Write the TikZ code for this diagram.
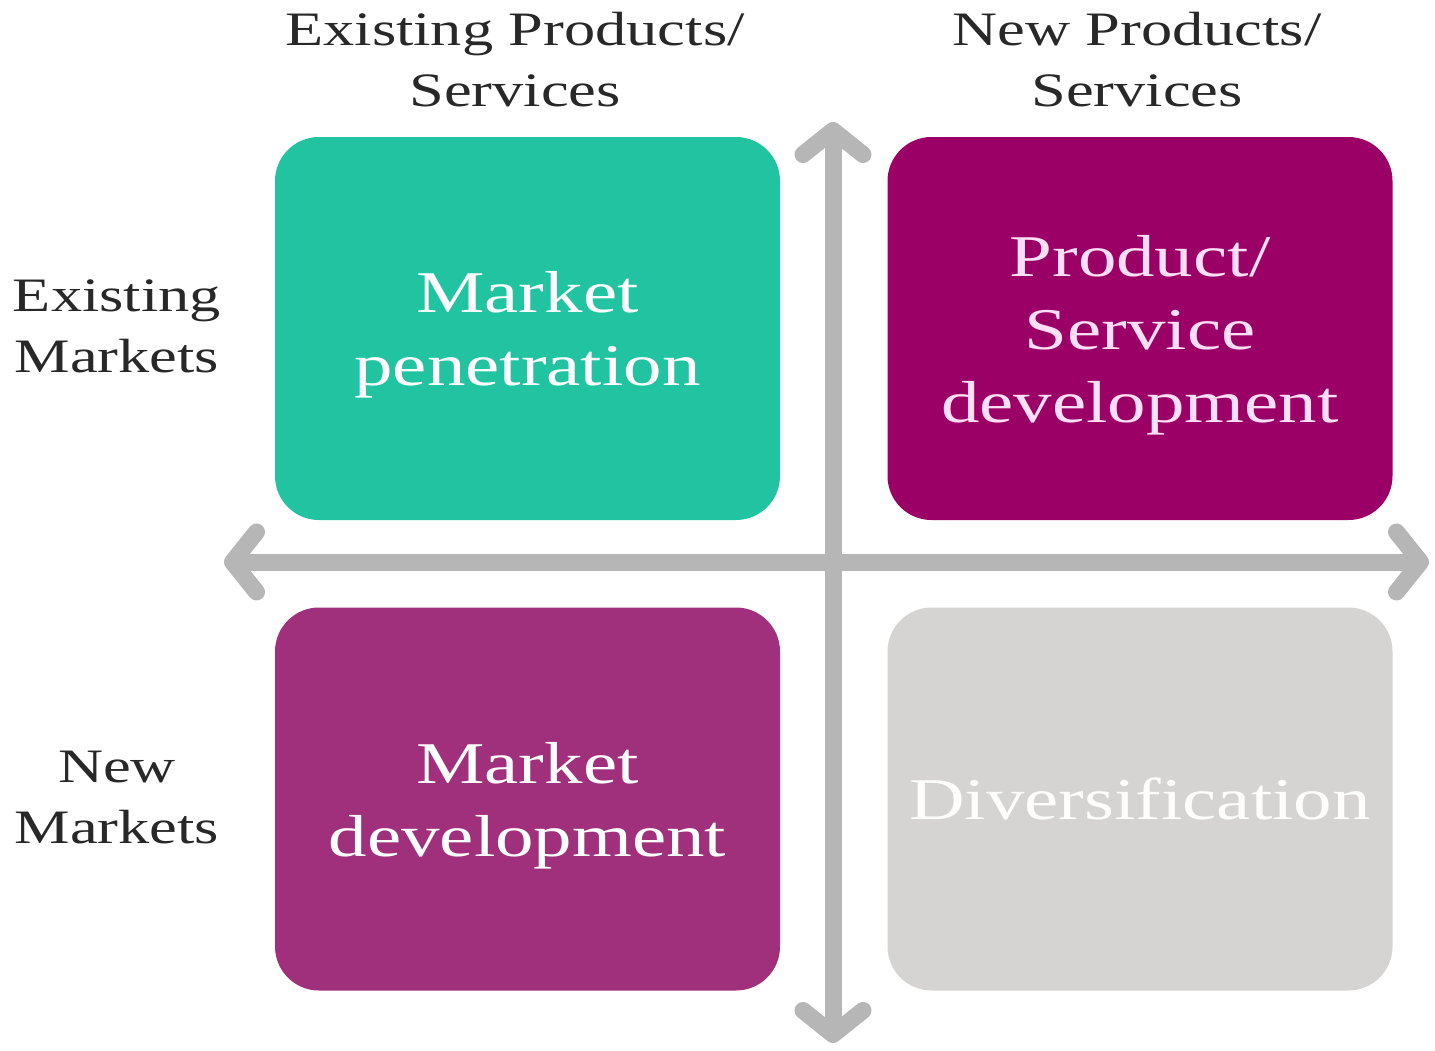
\documentclass[tikz,border=0pt]{standalone}
\usepackage{fontspec}
\setmainfont[FakeStretch=1.3]{Liberation Serif}
\usetikzlibrary{arrows.meta}
\definecolor{tealbox}{RGB}{34,195,161}
\definecolor{magbox}{RGB}{155,0,102}
\definecolor{purpbox}{RGB}{160,48,124}
\definecolor{greybox}{RGB}{214,211,211}
\definecolor{axisgrey}{RGB}{182,182,182}
\definecolor{labelgrey}{RGB}{40,40,40}
\definecolor{palepink}{RGB}{255,222,246}
\tikzset{
  quad/.style={rounded corners=22pt, minimum width=252.5pt, minimum height=191.5pt,
    inner sep=0pt, align=center, text depth=0pt, font=\fontsize{29.6}{36.5}\selectfont},
  axislabel/.style={align=center, text=labelgrey, anchor=base, inner sep=0pt,
    font=\fontsize{24}{30.3}\selectfont},
  axis/.style={draw=axisgrey, line width=8.5pt,
    {Straight Barb[length=12pt,width=30pt,round]}-{Straight Barb[length=12pt,width=30pt,round]}}
}
\begin{document}
\begin{tikzpicture}[x=0.5pt,y=-0.5pt]
\useasboundingbox (0,0) rectangle (1435,1050);
% axes
\coordinate (vtop) at (833,122);
\coordinate (vbot) at (833,1043);
\coordinate (hleft) at (224,562);
\coordinate (hright) at (1429,562);
\draw[axis] (hleft) -- (hright);
\draw[axis] (vtop) -- (vbot);
% quadrants
\node[quad, fill=tealbox, text=white] (mp) at (527.5,328.5) {Market\\penetration};
\node[quad, fill=magbox, text=palepink] (pd) at (1140,328.5) {Product/\\Service\\development};
\node[quad, fill=purpbox, text=white] (md) at (527.5,799) {Market\\development};
\node[quad, fill=greybox, text=white!95!greybox] (dv) at (1140,799) {Diversification};
% labels
\node[axislabel] (colA) at (515,106) {Existing Products/\\Services};
\node[axislabel] (colB) at (1137,106) {New Products/\\Services};
\node[axislabel] (rowA) at (117,372) {Existing\\Markets};
\node[axislabel] (rowB) at (117,843) {New\\Markets};
\end{tikzpicture}
\end{document}
